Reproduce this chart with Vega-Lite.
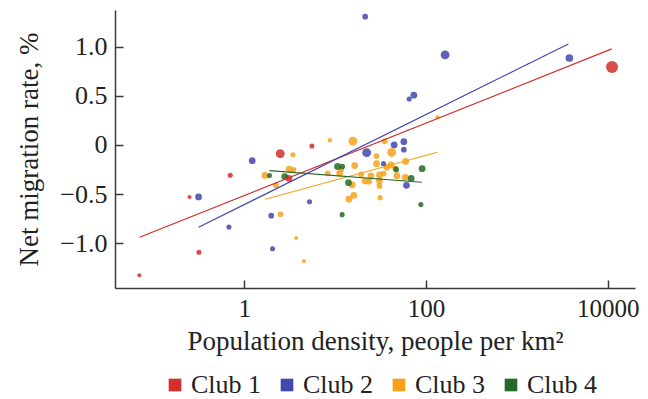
{
  "$schema": "https://vega.github.io/schema/vega-lite/v6.json",
  "width": 520,
  "height": 278,
  "autosize": {"type": "none"},
  "padding": {"left": 115, "top": 10, "right": 13, "bottom": 111},
  "background": "white",
  "config": {
    "view": {"stroke": null},
    "font": "Liberation Serif",
    "axis": {
      "grid": false,
      "domainColor": "#3a3a3a",
      "domainWidth": 1.5,
      "tickColor": "#3a3a3a",
      "tickWidth": 1.5,
      "tickSize": -8,
      "labelPadding": 16,
      "labelFont": "Liberation Serif",
      "labelFontSize": 25,
      "labelColor": "#222222",
      "titleFont": "Liberation Serif",
      "titleFontSize": 27,
      "titleFontWeight": "normal",
      "titleColor": "#222222"
    },
    "legend": {
      "labelFont": "Liberation Serif",
      "labelFontSize": 26,
      "labelColor": "#222222"
    }
  },
  "datasets": {
    "points": [
      {"club": "Club 1", "density": 0.0700, "rate": -1.326, "pop": 50},
      {"club": "Club 1", "density": 0.2502, "rate": -0.529, "pop": 50},
      {"club": "Club 1", "density": 0.7015, "rate": -0.308, "pop": 200},
      {"club": "Club 1", "density": 0.3175, "rate": -1.092, "pop": 200},
      {"club": "Club 1", "density": 2.489, "rate": -0.089, "pop": 1000},
      {"club": "Club 1", "density": 3.102, "rate": -0.341, "pop": 500},
      {"club": "Club 1", "density": 5.557, "rate": -0.010, "pop": 200},
      {"club": "Club 1", "density": 11180, "rate": 0.794, "pop": 2000},
      {"club": "Club 2", "density": 0.3143, "rate": -0.529, "pop": 500},
      {"club": "Club 2", "density": 0.6787, "rate": -0.834, "pop": 200},
      {"club": "Club 2", "density": 1.2246, "rate": -0.160, "pop": 500},
      {"club": "Club 2", "density": 1.982, "rate": -0.719, "pop": 300},
      {"club": "Club 2", "density": 2.048, "rate": -1.055, "pop": 200},
      {"club": "Club 2", "density": 5.228, "rate": -0.578, "pop": 200},
      {"club": "Club 2", "density": 21.43, "rate": 1.305, "pop": 300},
      {"club": "Club 2", "density": 22.27, "rate": -0.078, "pop": 1000},
      {"club": "Club 2", "density": 44.69, "rate": 0.000, "pop": 500},
      {"club": "Club 2", "density": 57.14, "rate": 0.034, "pop": 500},
      {"club": "Club 2", "density": 57.14, "rate": -0.048, "pop": 300},
      {"club": "Club 2", "density": 61.03, "rate": -0.410, "pop": 500},
      {"club": "Club 2", "density": 73.6, "rate": 0.506, "pop": 500},
      {"club": "Club 2", "density": 65.35, "rate": 0.468, "pop": 200},
      {"club": "Club 2", "density": 162.6, "rate": 0.916, "pop": 1000},
      {"club": "Club 2", "density": 3790, "rate": 0.885, "pop": 700},
      {"club": "Club 3", "density": 1.689, "rate": -0.310, "pop": 500},
      {"club": "Club 3", "density": 2.233, "rate": -0.410, "pop": 300},
      {"club": "Club 3", "density": 3.126, "rate": -0.247, "pop": 500},
      {"club": "Club 3", "density": 3.486, "rate": -0.254, "pop": 300},
      {"club": "Club 3", "density": 3.434, "rate": -0.099, "pop": 200},
      {"club": "Club 3", "density": 2.508, "rate": -0.705, "pop": 300},
      {"club": "Club 3", "density": 3.733, "rate": -0.946, "pop": 50},
      {"club": "Club 3", "density": 4.538, "rate": -1.183, "pop": 50},
      {"club": "Club 3", "density": 8.767, "rate": 0.048, "pop": 100},
      {"club": "Club 3", "density": 15.70, "rate": 0.038, "pop": 1000},
      {"club": "Club 3", "density": 35.13, "rate": 0.039, "pop": 300},
      {"club": "Club 3", "density": 8.29, "rate": -0.288, "pop": 300},
      {"club": "Club 3", "density": 11.24, "rate": -0.290, "pop": 500},
      {"club": "Club 3", "density": 11.67, "rate": -0.247, "pop": 300},
      {"club": "Club 3", "density": 16.43, "rate": -0.209, "pop": 500},
      {"club": "Club 3", "density": 28.54, "rate": -0.112, "pop": 300},
      {"club": "Club 3", "density": 41.95, "rate": -0.076, "pop": 1000},
      {"club": "Club 3", "density": 59.8, "rate": -0.168, "pop": 500},
      {"club": "Club 3", "density": 28.54, "rate": -0.190, "pop": 500},
      {"club": "Club 3", "density": 41.42, "rate": -0.203, "pop": 500},
      {"club": "Club 3", "density": 37.15, "rate": -0.227, "pop": 500},
      {"club": "Club 3", "density": 45.83, "rate": -0.237, "pop": 300},
      {"club": "Club 3", "density": 19.37, "rate": -0.298, "pop": 300},
      {"club": "Club 3", "density": 24.77, "rate": -0.315, "pop": 500},
      {"club": "Club 3", "density": 30.79, "rate": -0.305, "pop": 500},
      {"club": "Club 3", "density": 34.25, "rate": -0.292, "pop": 300},
      {"club": "Club 3", "density": 47.86, "rate": -0.312, "pop": 500},
      {"club": "Club 3", "density": 21.43, "rate": -0.366, "pop": 500},
      {"club": "Club 3", "density": 30.79, "rate": -0.363, "pop": 500},
      {"club": "Club 3", "density": 23.72, "rate": -0.373, "pop": 300},
      {"club": "Club 3", "density": 59.05, "rate": -0.329, "pop": 500},
      {"club": "Club 3", "density": 15.42, "rate": -0.407, "pop": 500},
      {"club": "Club 3", "density": 30.79, "rate": -0.417, "pop": 300},
      {"club": "Club 3", "density": 16.10, "rate": -0.512, "pop": 500},
      {"club": "Club 3", "density": 14.19, "rate": -0.552, "pop": 500},
      {"club": "Club 3", "density": 31.34, "rate": -0.536, "pop": 200},
      {"club": "Club 3", "density": 133.8, "rate": 0.282, "pop": 50},
      {"club": "Club 2", "density": 34.08, "rate": -0.190, "pop": 200},
      {"club": "Club 4", "density": 1.898, "rate": -0.310, "pop": 200},
      {"club": "Club 4", "density": 2.790, "rate": -0.322, "pop": 500},
      {"club": "Club 4", "density": 10.63, "rate": -0.219, "pop": 500},
      {"club": "Club 4", "density": 11.97, "rate": -0.219, "pop": 300},
      {"club": "Club 4", "density": 14.04, "rate": -0.384, "pop": 500},
      {"club": "Club 4", "density": 11.97, "rate": -0.709, "pop": 200},
      {"club": "Club 4", "density": 47.0, "rate": -0.249, "pop": 300},
      {"club": "Club 4", "density": 68.74, "rate": -0.341, "pop": 500},
      {"club": "Club 4", "density": 90.8, "rate": -0.241, "pop": 500},
      {"club": "Club 4", "density": 87.9, "rate": -0.605, "pop": 200}
    ],
    "lines": [
      {"club": "Club 1", "density": 0.0705, "rate": -0.939},
      {"club": "Club 1", "density": 11100, "rate": 0.977},
      {"club": "Club 2", "density": 0.3143, "rate": -0.837},
      {"club": "Club 2", "density": 3697, "rate": 1.027},
      {"club": "Club 3", "density": 1.702, "rate": -0.552},
      {"club": "Club 3", "density": 133.8, "rate": -0.074},
      {"club": "Club 4", "density": 1.898, "rate": -0.261},
      {"club": "Club 4", "density": 90.1, "rate": -0.379}
    ]
  },
  "encoding": {
    "x": {
      "field": "density",
      "type": "quantitative",
      "scale": {"type": "log", "domain": [0.0378, 20000], "nice": false},
      "axis": {
        "title": "Population density, people per km²",
        "values": [1, 100, 10000],
        "format": "d",
        "titlePadding": 7
      }
    },
    "y": {
      "field": "rate",
      "type": "quantitative",
      "scale": {"domain": [-1.455, 1.373], "nice": false, "zero": false},
      "axis": {
        "title": "Net migration rate, %",
        "values": [-1, -0.5, 0, 0.5, 1],
        "labelExpr": "datum.value == 0 ? '0' : format(datum.value, '.1f')",
        "labelFontSize": 26,
        "titlePadding": 16
      }
    },
    "color": {
      "field": "club",
      "type": "nominal",
      "scale": {
        "domain": ["Club 1", "Club 2", "Club 3", "Club 4"],
        "range": ["#d42f2a", "#4347ad", "#f7a11a", "#246a27"]
      },
      "legend": {
        "title": null,
        "orient": "none",
        "legendX": 47,
        "legendY": 362,
        "direction": "horizontal",
        "symbolType": "square",
        "symbolSize": 160,
        "symbolOpacity": 1,
        "symbolStrokeWidth": 0,
        "labelOffset": 3,
        "columnPadding": 12
      }
    }
  },
  "layer": [
    {
      "data": {"name": "points"},
      "mark": {"type": "circle", "opacity": 0.85},
      "encoding": {
        "size": {
          "field": "pop",
          "type": "quantitative",
          "scale": {"type": "linear", "domain": [50, 2000], "range": [16, 145]},
          "legend": null
        }
      }
    },
    {
      "data": {"name": "lines"},
      "mark": {"type": "line", "strokeWidth": 1.2},
      "encoding": {
        "detail": {"field": "club", "type": "nominal"}
      }
    }
  ]
}
